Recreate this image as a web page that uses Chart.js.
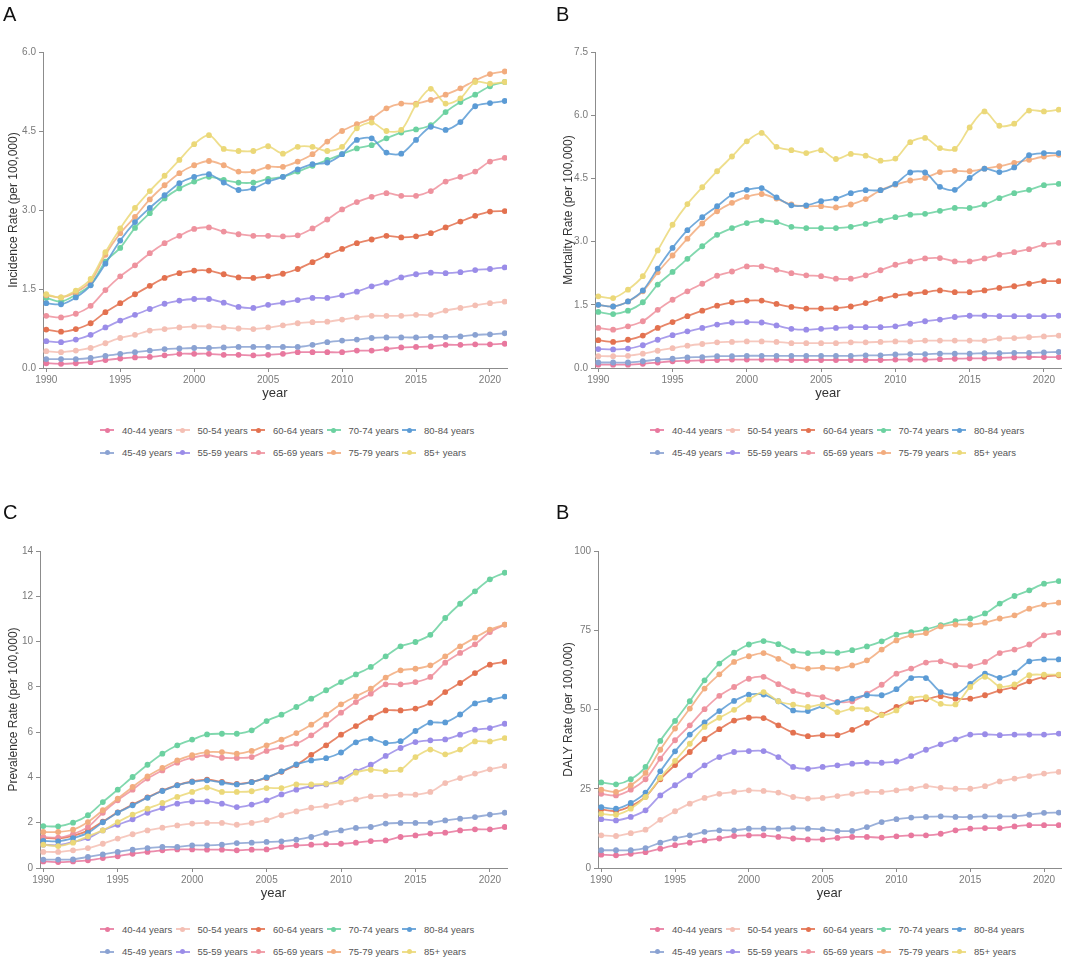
<!DOCTYPE html>
<html>
<head>
<meta charset="utf-8">
<script src="https://cdn.jsdelivr.net/npm/chart.js@4.4.1/dist/chart.umd.min.js"></script>
<style>
  body { margin: 0; background: #fff; }
  #wrap { position: relative; width: 1080px; height: 957px; overflow: hidden; font-family: "Liberation Sans", Arial, sans-serif; }
  #wrap canvas { position: absolute; }
  .letter { position: absolute; font-size: 20px; line-height: 20px; color: #111; }
  .legend { position: absolute; display: grid; grid-template-columns: repeat(5, 75.5px); grid-auto-rows: 22.5px; font-size: 9.5px; color: #555; }
  .item { display: flex; align-items: center; white-space: nowrap; }
  .mk { position: relative; width: 14px; height: 8px; margin-right: 8px; flex: none; }
  .mk .ln { position: absolute; left: 0; right: 0; top: 3px; height: 2px; }
  .mk .dt { position: absolute; left: 4.5px; top: 1.5px; width: 5px; height: 5px; border-radius: 50%; }
</style>
</head>
<body>
<div id="wrap">
  <canvas id="cA" width="540" height="405" style="left:0px;top:0px"></canvas>
  <canvas id="cB" width="540" height="405" style="left:540px;top:0px"></canvas>
  <canvas id="cC" width="540" height="425" style="left:0px;top:480px"></canvas>
  <canvas id="cD" width="540" height="425" style="left:540px;top:480px"></canvas>
  <div class="letter" style="left:3px;top:4px">A</div>
  <div class="letter" style="left:556px;top:4px">B</div>
  <div class="letter" style="left:3px;top:502px">C</div>
  <div class="letter" style="left:556px;top:502px">B</div>
</div>
<script>
// ---------- categories ----------
const years = [1990,1991,1992,1993,1994,1995,1996,1997,1998,1999,2000,2001,2002,2003,2004,2005,
               2006,2007,2008,2009,2010,2011,2012,2013,2014,2015,2016,2017,2018,2019,2020,2021];
const ageGroups = ["40-44 years","45-49 years","50-54 years","55-59 years","60-64 years",
                   "65-69 years","70-74 years","75-79 years","80-84 years","85+ years"];
const groupColors = ["#e8789e","#8aa2d2","#f4bfb4","#9a8ce8","#e3714f",
                     "#ee929e","#6bd1a0","#f2ac7e","#5b9bd5","#ebd878"];
const legendOrder = [0,2,4,6,8,1,3,5,7,9];

// ---------- tick labels ----------
const xTicks = [1990,1995,2000,2005,2010,2015,2020];
const xTickLabels = ["1990","1995","2000","2005","2010","2015","2020"];
const incTicks = [0,1.5,3,4.5,6];        const incTickLabels = ["0.0","1.5","3.0","4.5","6.0"];
const morTicks = [0,1.5,3,4.5,6,7.5];    const morTickLabels = ["0.0","1.5","3.0","4.5","6.0","7.5"];
const preTicks = [0,2,4,6,8,10,12,14];   const preTickLabels = ["0","2","4","6","8","10","12","14"];
const dalTicks = [0,25,50,75,100];       const dalTickLabels = ["0","25","50","75","100"];

// ---------- A: Incidence ----------
const inc40 = [0.09,0.08,0.09,0.11,0.15,0.18,0.20,0.21,0.24,0.27,0.27,0.27,0.25,0.25,0.24,0.25,0.27,0.30,0.30,0.30,0.30,0.33,0.33,0.36,0.39,0.40,0.41,0.44,0.44,0.45,0.45,0.46];
const inc45 = [0.17,0.17,0.17,0.19,0.23,0.27,0.30,0.33,0.36,0.37,0.38,0.38,0.39,0.40,0.40,0.40,0.40,0.40,0.44,0.49,0.52,0.54,0.57,0.58,0.58,0.58,0.59,0.59,0.60,0.63,0.64,0.66];
const inc50 = [0.32,0.30,0.33,0.38,0.47,0.57,0.63,0.71,0.74,0.77,0.79,0.79,0.77,0.75,0.74,0.77,0.81,0.85,0.87,0.88,0.92,0.96,0.99,0.99,0.99,1.01,1.01,1.09,1.14,1.19,1.23,1.26];
const inc55 = [0.51,0.49,0.54,0.63,0.77,0.90,1.01,1.12,1.22,1.28,1.31,1.31,1.24,1.16,1.14,1.20,1.24,1.29,1.33,1.33,1.38,1.45,1.55,1.62,1.72,1.78,1.81,1.80,1.82,1.86,1.88,1.91];
const inc60 = [0.73,0.69,0.74,0.85,1.06,1.23,1.40,1.56,1.71,1.80,1.85,1.85,1.78,1.72,1.71,1.74,1.79,1.88,2.01,2.14,2.26,2.37,2.44,2.51,2.48,2.50,2.56,2.67,2.78,2.89,2.97,2.98];
const inc65 = [0.99,0.96,1.03,1.18,1.48,1.74,1.95,2.18,2.37,2.51,2.64,2.67,2.59,2.54,2.51,2.51,2.50,2.52,2.65,2.82,3.01,3.15,3.25,3.32,3.27,3.27,3.36,3.54,3.63,3.73,3.92,3.99];
const inc70 = [1.33,1.26,1.39,1.58,2.02,2.28,2.66,2.94,3.22,3.41,3.54,3.63,3.57,3.52,3.52,3.59,3.63,3.73,3.84,3.95,4.06,4.17,4.23,4.36,4.47,4.53,4.61,4.86,5.05,5.19,5.35,5.43];
const inc75 = [1.38,1.34,1.44,1.64,2.15,2.56,2.87,3.20,3.47,3.70,3.85,3.93,3.85,3.73,3.73,3.82,3.82,3.92,4.06,4.30,4.50,4.63,4.74,4.93,5.02,5.02,5.09,5.19,5.31,5.46,5.58,5.63];
const inc80 = [1.23,1.21,1.34,1.57,1.98,2.42,2.77,3.04,3.28,3.51,3.63,3.68,3.52,3.38,3.41,3.54,3.63,3.77,3.87,3.90,4.06,4.33,4.36,4.09,4.07,4.33,4.58,4.52,4.67,4.97,5.03,5.07];
const inc85 = [1.40,1.34,1.47,1.69,2.20,2.65,3.04,3.36,3.65,3.95,4.25,4.42,4.16,4.12,4.12,4.21,4.07,4.20,4.20,4.12,4.20,4.55,4.66,4.50,4.52,5.00,5.30,5.02,5.12,5.43,5.40,5.43];

// ---------- B: Mortality ----------
const mor40 = [0.08,0.08,0.08,0.10,0.13,0.16,0.17,0.18,0.19,0.20,0.20,0.20,0.20,0.19,0.19,0.19,0.19,0.19,0.19,0.19,0.20,0.20,0.20,0.21,0.22,0.23,0.23,0.24,0.25,0.26,0.26,0.26];
const mor45 = [0.13,0.13,0.13,0.16,0.20,0.22,0.25,0.26,0.28,0.28,0.29,0.29,0.29,0.29,0.29,0.29,0.29,0.29,0.30,0.30,0.32,0.33,0.33,0.34,0.34,0.34,0.35,0.35,0.36,0.36,0.37,0.38];
const mor50 = [0.28,0.28,0.29,0.34,0.41,0.47,0.53,0.57,0.61,0.62,0.63,0.63,0.62,0.59,0.59,0.59,0.59,0.61,0.61,0.62,0.63,0.63,0.65,0.65,0.65,0.65,0.65,0.70,0.71,0.73,0.75,0.77];
const mor55 = [0.45,0.44,0.46,0.54,0.67,0.78,0.87,0.95,1.03,1.08,1.09,1.08,1.01,0.93,0.91,0.93,0.95,0.97,0.97,0.97,0.99,1.05,1.11,1.15,1.21,1.24,1.24,1.23,1.23,1.23,1.23,1.24];
const mor60 = [0.66,0.62,0.67,0.77,0.95,1.09,1.23,1.36,1.48,1.56,1.60,1.60,1.52,1.45,1.41,1.41,1.42,1.46,1.54,1.64,1.72,1.76,1.80,1.84,1.80,1.80,1.84,1.90,1.94,2.00,2.06,2.06];
const mor65 = [0.95,0.91,0.99,1.11,1.38,1.62,1.82,2.00,2.19,2.29,2.41,2.41,2.33,2.25,2.20,2.18,2.12,2.12,2.20,2.32,2.45,2.53,2.60,2.61,2.53,2.53,2.60,2.69,2.75,2.82,2.93,2.97];
const mor70 = [1.33,1.28,1.36,1.56,1.98,2.28,2.59,2.89,3.16,3.32,3.44,3.50,3.46,3.35,3.32,3.32,3.32,3.35,3.42,3.50,3.58,3.64,3.66,3.73,3.80,3.80,3.88,4.03,4.15,4.23,4.34,4.37];
const mor75 = [1.50,1.46,1.58,1.82,2.27,2.67,3.07,3.43,3.72,3.92,4.06,4.13,4.02,3.88,3.84,3.84,3.81,3.88,4.01,4.22,4.35,4.45,4.51,4.65,4.68,4.67,4.73,4.79,4.87,4.94,5.02,5.06];
const mor80 = [1.50,1.46,1.58,1.84,2.36,2.85,3.27,3.58,3.84,4.11,4.23,4.27,4.05,3.86,3.86,3.96,4.02,4.15,4.22,4.22,4.37,4.64,4.64,4.30,4.23,4.51,4.73,4.65,4.76,5.05,5.10,5.10];
const mor85 = [1.70,1.66,1.86,2.18,2.79,3.40,3.89,4.29,4.67,5.02,5.38,5.58,5.25,5.17,5.10,5.17,4.96,5.08,5.04,4.92,4.97,5.36,5.46,5.22,5.20,5.71,6.09,5.75,5.80,6.11,6.09,6.13];

// ---------- C: Prevalence ----------
const pre40 = [0.29,0.26,0.29,0.34,0.44,0.52,0.63,0.71,0.78,0.82,0.82,0.81,0.81,0.78,0.81,0.82,0.93,1.00,1.03,1.05,1.07,1.12,1.19,1.22,1.37,1.44,1.52,1.56,1.66,1.71,1.71,1.81];
const pre45 = [0.37,0.37,0.38,0.49,0.60,0.71,0.81,0.88,0.93,0.93,1.00,1.00,1.03,1.10,1.12,1.15,1.18,1.25,1.37,1.55,1.66,1.77,1.81,1.96,1.99,1.99,2.00,2.10,2.18,2.25,2.36,2.44];
const pre50 = [0.71,0.71,0.78,0.88,1.07,1.30,1.49,1.66,1.78,1.88,1.96,1.99,1.99,1.91,1.99,2.11,2.33,2.50,2.66,2.74,2.89,3.03,3.16,3.19,3.24,3.24,3.36,3.75,3.97,4.17,4.36,4.50];
const pre55 = [1.03,1.00,1.15,1.32,1.66,1.91,2.15,2.44,2.65,2.84,2.94,2.94,2.84,2.69,2.80,2.99,3.25,3.46,3.61,3.69,3.92,4.27,4.56,4.95,5.30,5.56,5.64,5.68,5.89,6.11,6.18,6.37];
const pre60 = [1.33,1.30,1.42,1.65,2.05,2.46,2.80,3.12,3.42,3.66,3.82,3.90,3.80,3.71,3.80,3.98,4.25,4.55,5.00,5.42,5.89,6.27,6.64,6.96,6.96,7.04,7.29,7.77,8.17,8.61,8.98,9.10];
const pre65 = [1.37,1.34,1.50,1.81,2.44,2.99,3.46,3.95,4.31,4.65,4.87,4.98,4.87,4.86,4.90,5.17,5.34,5.49,5.86,6.33,6.86,7.33,7.70,8.11,8.11,8.21,8.44,9.07,9.50,9.88,10.42,10.75];
const pre70 = [1.85,1.84,2.00,2.33,2.91,3.46,4.02,4.56,5.05,5.42,5.67,5.90,5.93,5.93,6.08,6.49,6.77,7.11,7.48,7.85,8.21,8.55,8.88,9.35,9.79,9.98,10.30,11.04,11.67,12.22,12.75,13.04];
const pre75 = [1.59,1.59,1.69,2.03,2.55,3.06,3.58,4.05,4.42,4.75,4.98,5.12,5.12,5.05,5.17,5.42,5.67,5.96,6.33,6.77,7.23,7.58,7.92,8.41,8.73,8.80,8.95,9.35,9.79,10.17,10.53,10.75];
const pre80 = [1.20,1.18,1.32,1.55,2.02,2.44,2.77,3.10,3.40,3.65,3.80,3.87,3.77,3.69,3.79,4.00,4.27,4.57,4.75,4.85,5.10,5.55,5.70,5.52,5.60,6.05,6.42,6.43,6.78,7.27,7.42,7.57];
const pre85 = [1.03,0.97,1.12,1.40,1.66,2.03,2.36,2.62,2.87,3.14,3.36,3.55,3.36,3.36,3.39,3.53,3.53,3.69,3.69,3.72,3.80,4.21,4.34,4.28,4.34,4.90,5.23,5.02,5.23,5.59,5.59,5.74];

// ---------- D: DALY ----------
const dal40 = [4.2,4.0,4.5,5.0,6.1,7.2,8.0,8.7,9.3,10.1,10.3,10.3,9.8,9.3,9.0,9.0,9.5,9.8,9.8,9.6,10.0,10.3,10.3,10.8,11.9,12.4,12.6,12.6,13.1,13.5,13.5,13.5];
const dal45 = [5.6,5.6,5.6,6.3,8.0,9.3,10.3,11.4,11.9,11.9,12.4,12.4,12.4,12.6,12.4,12.2,11.7,11.7,12.9,14.5,15.4,15.9,16.1,16.3,16.1,16.1,16.3,16.3,16.3,16.8,17.4,17.5];
const dal50 = [10.3,10.1,11.0,12.1,15.2,17.9,20.3,22.1,23.4,24.0,24.5,24.3,23.8,22.4,21.9,22.1,22.7,23.4,24.0,24.0,24.5,25.0,25.8,25.3,25.0,25.0,25.8,27.3,28.2,29.0,29.8,30.3];
const dal55 = [15.4,15.0,16.1,18.2,22.9,26.1,29.2,32.4,35.0,36.6,36.9,36.9,35.0,31.9,31.3,31.9,32.4,32.9,33.2,33.2,33.6,35.3,37.3,39.0,40.6,42.1,42.2,41.9,42.1,42.1,42.1,42.4];
const dal60 = [18.5,18.0,19.5,22.5,28.0,32.5,36.6,40.7,43.8,46.5,47.4,47.3,45.0,42.7,41.6,41.9,41.9,43.6,45.8,48.4,50.8,52.4,53.2,54.2,53.4,53.4,54.5,56.0,57.1,58.9,60.3,60.8];
const dal65 = [23.4,22.9,24.7,28.0,34.5,40.3,45.0,50.1,54.3,57.1,59.7,60.3,58.0,55.8,54.7,53.9,52.4,52.6,55.0,57.8,61.3,62.9,64.8,65.2,63.9,63.7,65.0,67.8,68.9,70.5,73.4,74.2];
const dal70 = [27.0,26.4,28.0,31.9,40.1,46.4,52.6,59.2,64.5,67.9,70.5,71.6,70.6,68.5,67.8,68.1,67.9,68.7,69.9,71.5,73.6,74.4,75.3,76.6,77.9,78.7,80.3,83.4,85.8,87.6,89.7,90.5];
const dal75 = [24.7,24.0,26.1,30.0,37.3,44.0,50.3,56.6,61.1,65.0,66.8,67.8,66.0,63.6,62.9,63.2,62.9,63.9,65.5,68.9,71.8,73.4,74.1,76.2,76.8,76.8,77.4,78.7,79.7,81.8,83.1,83.7];
const dal80 = [19.2,18.7,20.5,23.8,30.5,36.8,42.1,45.9,49.5,52.7,54.7,54.7,52.6,49.7,49.5,51.1,52.2,53.4,54.5,54.5,56.4,59.9,59.9,55.5,54.8,58.1,61.3,60.0,61.6,65.2,65.8,65.8];
const dal85 = [17.1,16.8,18.7,22.4,28.4,33.8,39.2,44.5,47.4,49.9,53.1,55.5,52.6,51.5,50.8,51.5,49.2,50.3,50.1,48.2,49.7,53.4,53.9,51.8,51.6,57.1,60.3,57.3,57.9,60.8,61.0,61.0];

// ---------- panels ----------
const FONT = "'Liberation Sans', Arial, sans-serif";
const panels = [
  { id:"cA", left:0,   top:0,   h:405, padL:2,  areaL:43, areaR:507, areaT:52, areaB:368,
    yTitle:"Incidence Rate (per 100,000)", yMax:6, yTicks:incTicks, yLabels:incTickLabels,
    series:[inc40,inc45,inc50,inc55,inc60,inc65,inc70,inc75,inc80,inc85], legL:100, legT:419 },
  { id:"cB", left:540, top:0,   h:405, padL:17, areaL:55, areaR:521, areaT:52, areaB:368,
    yTitle:"Mortality Rate (per 100,000)", yMax:7.5, yTicks:morTicks, yLabels:morTickLabels,
    series:[mor40,mor45,mor50,mor55,mor60,mor65,mor70,mor75,mor80,mor85], legL:650, legT:419 },
  { id:"cC", left:0,   top:480, h:425, padL:2,  areaL:40, areaR:507, areaT:71, areaB:388,
    yTitle:"Prevalence Rate (per 100,000)", yMax:14, yTicks:preTicks, yLabels:preTickLabels,
    series:[pre40,pre45,pre50,pre55,pre60,pre65,pre70,pre75,pre80,pre85], legL:100, legT:918 },
  { id:"cD", left:540, top:480, h:425, padL:17, areaL:58, areaR:521, areaT:71, areaB:388,
    yTitle:"DALY Rate (per 100,000)", yMax:100, yTicks:dalTicks, yLabels:dalTickLabels,
    series:[dal40,dal45,dal50,dal55,dal60,dal65,dal70,dal75,dal80,dal85], legL:650, legT:918 }
];

function alpha(hex, a) {
  const r = parseInt(hex.slice(1,3),16), g = parseInt(hex.slice(3,5),16), b = parseInt(hex.slice(5,7),16);
  return `rgba(${r},${g},${b},${a})`;
}

panels.forEach(p => {
  const datasets = ageGroups.map((name, i) => ({
    label: name,
    data: years.map((yr, k) => ({ x: yr, y: p.series[i][k] })),
    borderColor: alpha(groupColors[i], 0.85),
    backgroundColor: groupColors[i],
    pointBackgroundColor: groupColors[i],
    pointBorderWidth: 0,
    pointRadius: 2.9,
    borderWidth: 1.8,
    tension: 0.3,
    order: 9 - i
  }));
  new Chart(document.getElementById(p.id), {
    type: "line",
    data: { datasets },
    options: {
      responsive: false,
      animation: false,
      layout: { padding: { left: p.padL, right: 540 - p.areaR, top: p.areaT, bottom: 0 } },
      plugins: { legend: { display: false }, tooltip: { enabled: false } },
      scales: {
        x: {
          type: "linear", min: 1989.78, max: 2021.15,
          afterBuildTicks: s => { s.ticks = xTicks.map(v => ({ value: v })); },
          afterFit: s => { s.height = p.h - p.areaB; },
          ticks: { callback: (v, i) => xTickLabels[i], color: "#7a7a7a", font: { size: 10, family: FONT }, padding: 2, maxRotation: 0 },
          grid: { display: true, drawOnChartArea: false, drawTicks: true, tickLength: 4, color: "#8c8c8c" },
          border: { display: true, color: "#8c8c8c", width: 1 },
          title: { display: true, text: "year", color: "#333", font: { size: 13, family: FONT } }
        },
        y: {
          type: "linear", min: 0, max: p.yMax,
          afterBuildTicks: s => { s.ticks = p.yTicks.map(v => ({ value: v })); },
          afterFit: s => { s.width = p.areaL - p.padL; },
          ticks: { callback: (v, i) => p.yLabels[i], color: "#7a7a7a", font: { size: 10, family: FONT }, padding: 3 },
          grid: { display: true, drawOnChartArea: false, drawTicks: true, tickLength: 4, color: "#8c8c8c" },
          border: { display: true, color: "#8c8c8c", width: 1 },
          title: { display: true, text: p.yTitle, color: "#333", font: { size: 12, family: FONT } }
        }
      }
    }
  });

  // legend (2 rows x 5 columns, column-major like the original)
  const leg = document.createElement("div");
  leg.className = "legend";
  leg.style.left = p.legL + "px";
  leg.style.top = p.legT + "px";
  legendOrder.forEach(i => {
    const it = document.createElement("div");
    it.className = "item";
    it.innerHTML = `<span class="mk"><span class="ln" style="background:${alpha(groupColors[i],0.85)}"></span>` +
                   `<span class="dt" style="background:${groupColors[i]}"></span></span><span>${ageGroups[i]}</span>`;
    leg.appendChild(it);
  });
  document.getElementById("wrap").appendChild(leg);
});
</script>
</body>
</html>
